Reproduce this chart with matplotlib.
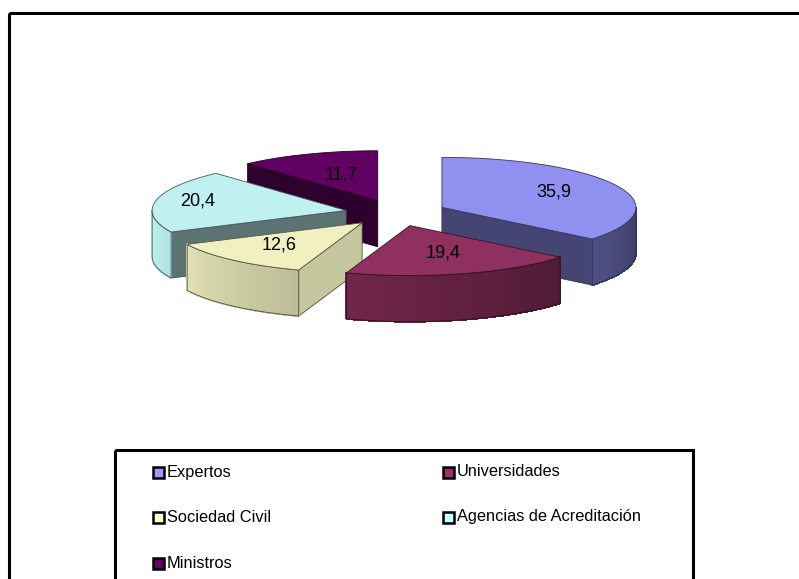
import numpy as np
import matplotlib.pyplot as plt
from matplotlib.patches import Polygon, Rectangle
from matplotlib.colors import to_rgb

plt.rcParams['font.family'] = ['Liberation Sans', 'DejaVu Sans']

# data
labels = ['Expertos', 'Universidades', 'Sociedad Civil',
          'Agencias de Acreditación', 'Ministros']
values = [35.9, 19.4, 12.6, 20.4, 11.7]
value_text = ['35,9', '19,4', '12,6', '20,4', '11,7']
colors = ['#9999FF', '#993366', '#FFFFCC', '#CCFFFF', '#660066']
face_shade = [0.45, 0.45, 0.78, 0.45, 0.45]
label_r = [0.64, 0.62, 0.64, 0.78, 0.52]

# pie geometry in pixels
W, H = 799, 579
cx0, cy0 = 396, 213
rx, ry = 194, 50
depth = 46
explode = 0.262

fig = plt.figure(figsize=(W / 100, H / 100), dpi=100)
ax = fig.add_axes([0, 0, 1, 1])
ax.set_xlim(0, W)
ax.set_ylim(H, 0)
ax.axis('off')


def shade(c, f):
    return tuple(np.clip(np.array(to_rgb(c)) * f, 0, 1))


def rim(cx, cy, ang, z=0.0):
    a = np.radians(ang)
    return np.column_stack([cx + rx * np.cos(a), cy - ry * np.sin(a) + z])


def side_factor(ang):
    return 0.40 + 0.56 * (-ang / 180.0)


# slice angles, clockwise from 12 o'clock
total = sum(values)
starts = 90 - 360 * np.concatenate([[0], np.cumsum(values)[:-1]]) / total
ends = starts - 360 * np.array(values) / total
mids = (starts + ends) / 2

order = np.argsort(-np.sin(np.radians(mids)))
for i in order:
    a1, a2, m = starts[i], ends[i], mids[i]
    cx = cx0 + explode * rx * np.cos(np.radians(m))
    cy = cy0 - explode * ry * np.sin(np.radians(m))
    col = colors[i]

    # radial cut faces
    for a, vis in ((a1, np.cos(np.radians(a1)) < -1e-6),
                   (a2, np.cos(np.radians(a2)) > 1e-6)):
        if not vis:
            continue
        p = rim(cx, cy, np.array([a]))[0]
        poly = [(cx, cy), tuple(p), (p[0], p[1] + depth), (cx, cy + depth)]
        fc = shade(col, face_shade[i])
        ax.add_patch(Polygon(poly, closed=True, facecolor=fc,
                             edgecolor=shade(col, 0.3), lw=0.6))

    # curved outer side (front half only), shaded by angle
    lo, hi = max(a2, -180), min(a1, 0)
    if hi > lo:
        angs = np.linspace(lo, hi, 60)
        for k in range(len(angs) - 1):
            seg = angs[k:k + 2]
            top = rim(cx, cy, seg)
            bot = rim(cx, cy, seg[::-1], depth)
            fc = shade(col, side_factor(seg.mean()))
            ax.add_patch(Polygon(np.vstack([top, bot]), closed=True,
                                 facecolor=fc, edgecolor=fc, lw=0.8,
                                 antialiased=False))
        top = rim(cx, cy, angs)
        bot = rim(cx, cy, angs[::-1], depth)
        ax.add_patch(Polygon(np.vstack([top, bot]), closed=True, fill=False,
                             edgecolor=shade(col, 0.3), lw=0.6))

    # top face
    arc = rim(cx, cy, np.linspace(a1, a2, 120))
    ax.add_patch(Polygon(np.vstack([[cx, cy], arc]), closed=True,
                         facecolor=shade(col, 0.94),
                         edgecolor=shade(col, 0.35), lw=0.6))

    # value label
    ax.text(cx + label_r[i] * rx * np.cos(np.radians(m)),
            cy - label_r[i] * ry * np.sin(np.radians(m)) - 2,
            value_text[i], ha='center', va='center', fontsize=13,
            color='black')

# outer chart frame
ax.add_patch(Rectangle((9, 13), 800, 600, fill=False, edgecolor='black',
                       lw=2.2))

# legend box
ax.add_patch(Rectangle((115, 450), 578, 200, fill=False, edgecolor='black',
                       lw=2.2))
col_x = [153, 443]
row_y = [472, 517, 563]
for j, lab in enumerate(labels):
    x = col_x[j % 2]
    y = row_y[j // 2]
    ax.add_patch(Rectangle((x, y - 5.5), 11, 11, facecolor=colors[j],
                           edgecolor='black', lw=1.8))
    ax.text(x + 14, y, lab, ha='left', va='center', fontsize=11.8,
            color='black')

fig.savefig('out.png', dpi=100)
